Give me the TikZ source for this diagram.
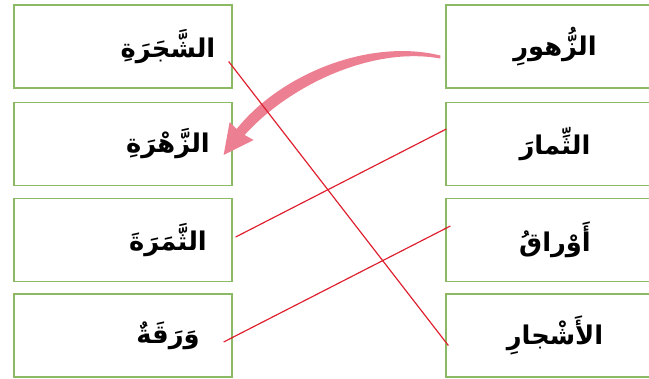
\documentclass[tikz,border=0pt]{standalone}
\usepackage{fontspec}
\usetikzlibrary{calc}
\TeXXeTstate=1
\newfontfamily\arabicfont[Script=Arabic]{DejaVu Sans}
\definecolor{boxgreen}{RGB}{140,185,100}
\definecolor{linkred}{RGB}{222,30,45}
\definecolor{arrowpink}{RGB}{236,128,146}

\begin{document}
\begin{tikzpicture}[x=0.03cm,y=-0.03cm,
        wordbox/.style={draw=boxgreen,line width=1.1pt,minimum width=6.54cm,minimum height=2.49cm,inner sep=0pt},
        word/.style={font=\arabicfont\bfseries\fontsize{22}{26}\selectfont,inner sep=0pt},
        link/.style={draw=linkred,line width=1pt}]
            \useasboundingbox (0,0) rectangle (649,378);
            \clip (0,0) rectangle (649,378);

            % left column
            \foreach \n/\y/\lab in {l1/46.5/{الشَّجَرَةِ},l2/144/{الزَّهْرَةِ},l3/240/{الثَّمَرَةَ},l4/335.5/{وَرَقَةٌ}}{
                \node[wordbox] (\n) at (123,\y) {};
                \node[word] (w\n) at ($(\n.center)+(45,0)$) {\beginR\lab\endR};
            }

            % right column
            \foreach \n/\y/\lab in {r1/46.5/{الزُّهورِ},r2/144/{الثِّمارَ},r3/240/{أَوْراقُ},r4/335.5/{الأَشْجارِ}}{
                \node[wordbox] (\n) at (555,\y) {};
                \node[word] (w\n) at (\n.center) {\beginR\lab\endR};
            }

            % example arrow
            \coordinate (a0) at ($(r1.west)+(-5,10.5)$);
            \coordinate (a1) at ($(l2.east)+(-9,11)$);
            \fill[arrowpink] ($(a0)+(0,-1.5)$) .. controls ($(a0)+(-71,-19)$) and ($(a1)+(57,-81)$) .. ($(a1)+(13,-26)$)
                -- ($(a1)+(6,-33)$) -- (a1) -- ($(a1)+(30,-15)$) -- ($(a1)+(21,-20)$)
                .. controls ($(a1)+(65,-69)$) and ($(a0)+(-69,-11)$) .. ($(a0)+(0,1.5)$) -- cycle;

            % matching lines
            \draw[link] ($(l1.east)+(-4,15)$) -- ($(r4.west)+(3,10)$);
            \draw[link] ($(r2.west)+(1,-15)$) -- ($(l3.east)+(3,-3)$);
            \draw[link] ($(r3.west)+(5,-14)$) -- ($(l4.east)+(-9,6.5)$);
        \end{tikzpicture}
\end{document}
